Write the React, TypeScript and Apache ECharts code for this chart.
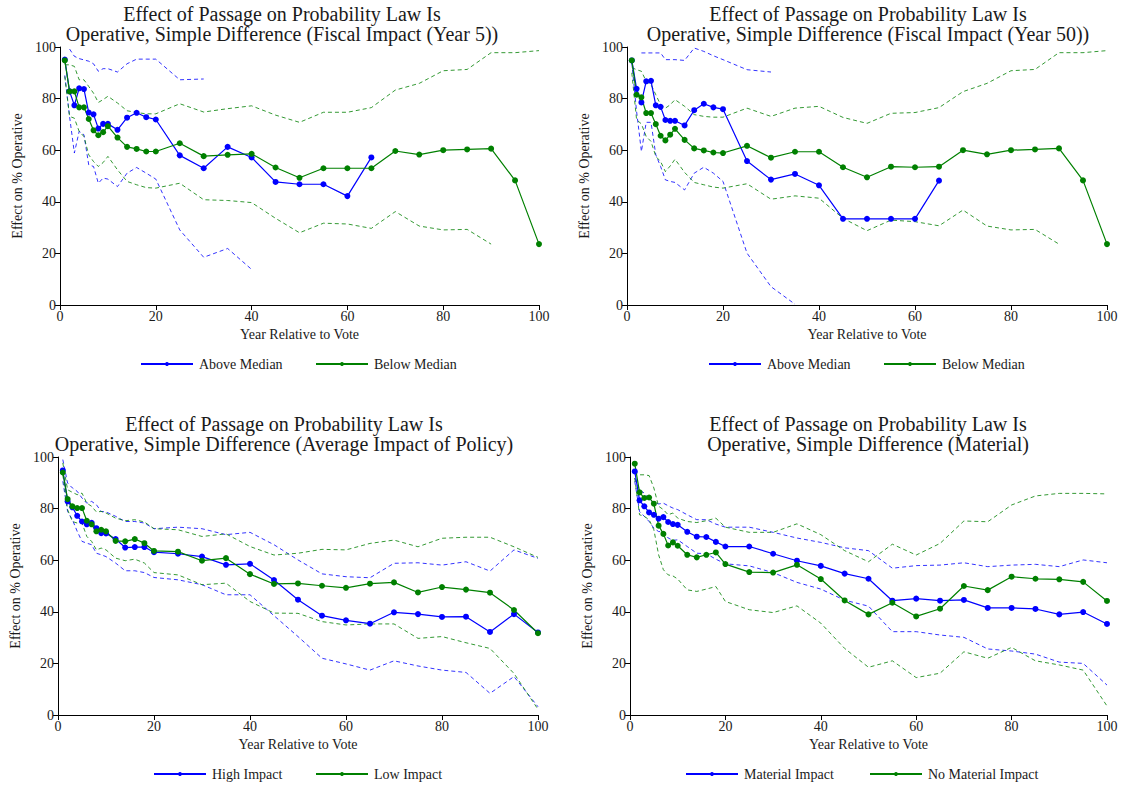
import React, { useEffect, useRef } from "react";
import * as echarts from "echarts";

const YEARS = [1, 2, 3, 4, 5, 6, 7, 8, 9, 10, 12, 14, 16, 18, 20, 25, 30, 35, 40, 45, 50, 55, 60, 65, 70, 75, 80, 85, 90, 95, 100];
const X_TICKS = [0, 20, 40, 60, 80, 100];
const Y_TICKS = [0, 20, 40, 60, 80, 100];

const TITLES = [
  ["Effect of Passage on Probability Law Is", "Operative, Simple Difference (Fiscal Impact (Year 5))"],
  ["Effect of Passage on Probability Law Is", "Operative, Simple Difference (Fiscal Impact (Year 50))"],
  ["Effect of Passage on Probability Law Is", "Operative, Simple Difference (Average Impact of Policy)"],
  ["Effect of Passage on Probability Law Is", "Operative, Simple Difference (Material)"],
];
const LEGENDS = [
  ["Above Median", "Below Median"],
  ["Above Median", "Below Median"],
  ["High Impact", "Low Impact"],
  ["Material Impact", "No Material Impact"],
];
const X_NAME = "Year Relative to Vote";
const Y_NAME = "Effect on % Operative";

// Panel 1: Fiscal Impact (Year 5)
const p1Blue = [95.1, 82.8, 77.4, 84.0, 83.7, 74.6, 73.9, 68.4, 70.2, 70.2, 67.9, 72.6, 74.5, 72.8, 71.9, 58.0, 53.0, 61.3, 57.2, 47.7, 46.8, 46.8, 42.2, 57.2];
const p1Green = [94.8, 82.8, 82.8, 76.6, 76.6, 72.1, 67.7, 65.8, 67.0, 69.3, 64.9, 61.3, 60.5, 59.5, 59.5, 62.7, 57.7, 58.2, 58.6, 53.3, 49.3, 53.0, 53.0, 53.0, 59.7, 58.3, 60.0, 60.3, 60.6, 48.3, 23.6];
const p1BlueHi = [null, 99.2, 96.4, 95.5, 95.0, 94.5, 93.5, 90.6, 91.6, 91.6, 90.3, 93.5, 95.3, 95.3, 95.3, 87.3, 87.6];
const p1BlueLo = [89.0, 73.0, 58.9, 67.3, 66.0, 54.3, 53.7, 47.2, 49.2, 48.8, 45.9, 51.1, 53.3, 51.1, 48.8, 29.1, 18.5, 21.9, 13.8];
const p1GreenHi = [93.1, 93.1, 92.5, 87.3, 87.3, 84.7, 82.1, 78.5, 79.6, 80.9, 78.3, 75.3, 74.6, 74.1, 74.1, 78.0, 74.8, 76.1, 77.2, 73.6, 70.8, 74.7, 74.7, 76.5, 83.3, 85.9, 90.8, 91.3, 97.8, 97.8, 98.6];
const p1GreenLo = [88.6, 73.1, 72.4, 67.3, 65.3, 58.2, 55.6, 53.7, 55.2, 57.6, 52.4, 47.9, 46.6, 45.5, 45.3, 47.2, 40.8, 40.5, 39.7, 33.6, 28.0, 31.7, 31.4, 29.7, 36.2, 30.6, 29.1, 29.3, 23.6];

// Panel 2: Fiscal Impact (Year 50)
const p2Blue = [94.8, 83.8, 78.5, 86.7, 86.9, 77.4, 76.8, 71.7, 71.4, 71.4, 69.6, 75.5, 78.0, 76.6, 75.9, 55.8, 48.6, 50.8, 46.4, 33.4, 33.4, 33.4, 33.4, 48.2];
const p2Green = [94.8, 81.5, 80.5, 74.4, 74.4, 70.1, 65.6, 63.8, 66.0, 68.3, 64.0, 60.7, 59.9, 59.1, 58.9, 61.7, 57.1, 59.4, 59.4, 53.4, 49.5, 53.6, 53.4, 53.6, 60.0, 58.4, 60.0, 60.3, 60.7, 48.3, 23.6];
const p2BlueHi = [null, null, 97.7, 97.7, 97.7, 97.7, 97.7, 95.1, 95.1, 95.1, 94.8, 99.6, 98.3, 96.6, 95.1, 91.2, 90.3];
const p2BlueLo = [93.8, 75.0, 59.5, 70.8, 70.8, 58.2, 53.7, 48.5, 47.9, 47.5, 44.6, 51.1, 53.4, 51.1, 47.9, 20.1, 7.1, 0.3];
const p2GreenHi = [92.0, 91.2, 90.6, 86.7, 85.4, 81.5, 77.6, 76.3, 77.6, 79.6, 77.0, 73.8, 73.1, 72.8, 72.8, 76.3, 73.1, 76.3, 77.0, 72.7, 70.4, 74.3, 74.6, 76.5, 82.7, 85.9, 90.8, 91.3, 97.8, 97.8, 98.6];
const p2GreenLo = [90.0, 71.8, 70.2, 65.3, 63.4, 57.6, 55.6, 51.7, 53.9, 56.5, 51.4, 47.5, 46.6, 45.7, 45.3, 47.0, 41.0, 42.3, 41.4, 33.6, 28.8, 32.9, 32.3, 30.7, 36.8, 30.6, 29.1, 29.3, 23.6];

// Panel 3: Average Impact of Policy
const p3Blue = [94.8, 82.8, 80.5, 77.2, 75.0, 73.9, 74.5, 72.4, 70.5, 70.4, 68.2, 64.9, 65.1, 65.1, 63.1, 62.5, 61.4, 58.2, 58.6, 52.3, 44.7, 38.5, 36.7, 35.4, 39.8, 39.1, 38.0, 38.1, 32.2, 39.1, 32.0];
const p3Green = [94.0, 83.7, 80.9, 80.2, 80.2, 75.3, 73.9, 71.2, 71.8, 71.2, 67.5, 67.3, 68.2, 66.6, 63.6, 63.3, 59.8, 60.8, 54.6, 50.8, 51.0, 50.1, 49.3, 50.9, 51.4, 47.5, 49.6, 48.6, 47.4, 40.7, 31.7];
const p3BlueHi = [99.0, 89.9, 88.0, 86.7, 84.1, 82.1, 82.8, 81.5, 78.9, 78.7, 77.0, 75.0, 75.0, 74.4, 72.2, 72.8, 72.2, 69.9, 70.8, 66.0, 60.1, 54.7, 53.6, 53.2, 58.8, 59.0, 58.1, 59.4, 55.8, 64.0, 60.7];
const p3BlueLo = [90.6, 78.9, 75.7, 71.2, 67.3, 66.6, 66.0, 62.7, 62.1, 61.4, 58.9, 55.9, 55.9, 55.2, 53.3, 52.4, 50.5, 46.6, 46.6, 38.5, 30.4, 22.0, 19.8, 17.4, 21.0, 19.0, 17.4, 16.5, 8.4, 14.9, 3.2];
const p3GreenHi = [97.7, 87.3, 86.3, 85.4, 86.0, 82.1, 80.9, 78.7, 78.9, 78.3, 76.3, 75.3, 75.7, 74.8, 72.2, 71.8, 69.2, 70.2, 65.3, 62.0, 62.7, 64.2, 64.0, 66.5, 67.8, 65.2, 68.5, 68.9, 68.9, 65.2, 61.1];
const p3GreenLo = [93.1, 79.6, 75.0, 74.4, 74.4, 69.2, 67.3, 64.0, 64.7, 64.0, 60.8, 59.8, 60.4, 58.9, 55.2, 54.3, 50.5, 51.1, 44.0, 39.5, 39.4, 36.2, 34.9, 35.3, 35.3, 29.7, 30.4, 28.0, 25.8, 16.1, 2.2];

// Panel 4: Material
const p4Blue = [94.4, 83.2, 80.9, 78.5, 77.6, 76.1, 76.7, 74.8, 74.0, 73.7, 71.0, 69.1, 69.0, 67.1, 65.3, 65.3, 62.5, 59.8, 57.8, 54.8, 52.8, 44.3, 45.1, 44.3, 44.6, 41.5, 41.5, 41.1, 39.0, 39.9, 35.3];
const p4Green = [97.4, 86.3, 84.1, 84.3, 81.9, 73.4, 70.2, 65.7, 66.9, 65.6, 62.1, 61.1, 62.1, 63.0, 58.5, 55.4, 55.2, 58.2, 52.7, 44.4, 39.0, 43.5, 38.2, 41.2, 50.0, 48.4, 53.6, 52.8, 52.6, 51.6, 44.2];
const p4BlueHi = [91.8, 87.3, 86.0, 83.7, 82.4, 81.8, 82.1, 81.1, 80.2, 79.6, 77.6, 75.7, 75.7, 74.0, 72.8, 72.8, 70.8, 68.6, 66.9, 64.8, 63.7, 56.9, 57.9, 58.1, 59.0, 57.5, 58.1, 58.4, 57.5, 60.1, 59.0];
const p4BlueLo = [90.6, 78.9, 77.0, 75.0, 72.4, 71.1, 71.1, 68.6, 67.7, 67.9, 65.3, 62.7, 62.5, 60.4, 58.6, 57.8, 55.2, 51.4, 48.8, 44.5, 42.2, 32.3, 32.3, 31.0, 30.1, 25.6, 24.8, 23.6, 20.5, 20.0, 11.6];
const p4GreenHi = [94.8, 93.1, 93.1, 92.8, 88.0, 80.9, 79.6, 77.6, 78.3, 76.3, 75.0, 74.6, 75.3, 76.3, 72.8, 70.8, 70.8, 74.1, 69.9, 63.7, 59.4, 66.2, 62.0, 66.5, 75.2, 74.9, 81.4, 84.9, 85.9, 85.9, 85.7];
const p4GreenLo = [91.8, 77.6, 77.0, 75.7, 71.8, 62.1, 56.3, 54.3, 53.9, 52.7, 48.5, 47.9, 48.8, 49.8, 44.0, 40.8, 39.7, 42.3, 35.6, 25.8, 18.5, 21.0, 14.5, 16.2, 24.5, 22.0, 26.2, 21.0, 19.4, 17.4, 3.5];

const PANELS = [
  { blue: p1Blue, green: p1Green, blueHi: p1BlueHi, blueLo: p1BlueLo, greenHi: p1GreenHi, greenLo: p1GreenLo },
  { blue: p2Blue, green: p2Green, blueHi: p2BlueHi, blueLo: p2BlueLo, greenHi: p2GreenHi, greenLo: p2GreenLo },
  { blue: p3Blue, green: p3Green, blueHi: p3BlueHi, blueLo: p3BlueLo, greenHi: p3GreenHi, greenLo: p3GreenLo },
  { blue: p4Blue, green: p4Green, blueHi: p4BlueHi, blueLo: p4BlueLo, greenHi: p4GreenHi, greenLo: p4GreenLo },
];

const BLUE = "#0000ff";
const GREEN = "#008000";
const FONT = "Liberation Serif";
const TEXT = "#1a1a1a";
const FS = 14;

const GRIDS = [
  { left: 60, top: 47, width: 479, height: 258 },
  { left: 627, top: 47, width: 480, height: 258 },
  { left: 58, top: 457, width: 480, height: 258 },
  { left: 630, top: 457, width: 477, height: 258 },
];
const TITLE_POS = [
  { x: 282, y: 14 },
  { x: 868, y: 14 },
  { x: 284, y: 424 },
  { x: 868, y: 424 },
];
const LEGEND_POS = [
  [{ left: 135, top: 356 }, { left: 310, top: 356 }],
  [{ left: 703, top: 356 }, { left: 878, top: 356 }],
  [{ left: 148, top: 766 }, { left: 310, top: 766 }],
  [{ left: 680, top: 766 }, { left: 864, top: 766 }],
];

function pts(vals: (number | null)[]) {
  return vals.map((v, i) => [YEARS[i], v]);
}

export default function App() {
  const ref = useRef<HTMLDivElement>(null);
  useEffect(() => {
    document.body.style.margin = "0";
    document.body.style.overflow = "hidden";
    if (!ref.current) return;
    const chart = echarts.init(ref.current, null, { renderer: "svg" });

    const grid: any[] = [];
    const xAxis: any[] = [];
    const yAxis: any[] = [];
    const series: any[] = [];
    const legend: any[] = [];
    const graphic: any[] = [];

    PANELS.forEach((p, i) => {
      grid.push({ ...GRIDS[i], containLabel: false });
      xAxis.push({
        type: "value",
        gridIndex: i,
        min: X_TICKS[0],
        max: X_TICKS[X_TICKS.length - 1],
        interval: 20,
        name: X_NAME,
        nameLocation: "middle",
        nameGap: 22,
        nameTextStyle: { fontFamily: FONT, fontSize: FS, color: TEXT },
        axisLine: { show: true, lineStyle: { color: "#000", width: 1 } },
        axisTick: { show: true, length: 5, lineStyle: { color: "#000" } },
        axisLabel: { show: true, fontFamily: FONT, fontSize: FS, color: TEXT, margin: 4 },
        splitLine: { show: false },
      });
      yAxis.push({
        type: "value",
        gridIndex: i,
        min: Y_TICKS[0],
        max: Y_TICKS[Y_TICKS.length - 1],
        interval: 20,
        name: Y_NAME,
        nameLocation: "middle",
        nameGap: 36,
        nameTextStyle: { fontFamily: FONT, fontSize: FS, color: TEXT },
        axisLine: { show: true, lineStyle: { color: "#000", width: 1 } },
        axisTick: { show: true, length: 5, lineStyle: { color: "#000" } },
        axisLabel: { fontFamily: FONT, fontSize: FS, color: TEXT, margin: 4 },
        splitLine: { show: false },
      });

      const names = LEGENDS[i];
      const dash = (color: string, data: any, nm: string) => ({
        type: "line",
        name: nm,
        xAxisIndex: i,
        yAxisIndex: i,
        data: pts(data),
        showSymbol: false,
        symbol: "none",
        silent: true,
        lineStyle: { color, width: 1, type: [4, 3], opacity: 0.8 },
        z: 2,
      });
      series.push(dash(BLUE, p.blueHi, names[0] + " upper"));
      series.push(dash(BLUE, p.blueLo, names[0] + " lower"));
      series.push(dash(GREEN, p.greenHi, names[1] + " upper"));
      series.push(dash(GREEN, p.greenLo, names[1] + " lower"));
      const solid = (color: string, data: any, nm: string) => ({
        type: "line",
        name: nm,
        xAxisIndex: i,
        yAxisIndex: i,
        data: pts(data),
        symbol: "circle",
        symbolSize: 6,
        showSymbol: true,
        itemStyle: { color },
        lineStyle: { color, width: 1.2 },
        z: 3,
      });
      series.push(solid(BLUE, p.blue, names[0]));
      series.push(solid(GREEN, p.green, names[1]));

      names.forEach((nm, k) => {
        legend.push({
          data: [nm],
          left: LEGEND_POS[i][k].left,
          top: LEGEND_POS[i][k].top - 4,
          itemWidth: 52,
          itemHeight: 5,
          selectedMode: false,
          textStyle: { fontFamily: FONT, fontSize: FS, color: TEXT, padding: [0, 0, 0, 1] },
        });
      });

      graphic.push({
        type: "text",
        x: TITLE_POS[i].x,
        y: TITLE_POS[i].y,
        style: {
          text: TITLES[i][0],
          font: `20px ${FONT}`,
          fill: TEXT,
          textAlign: "center",
          textVerticalAlign: "middle",
        },
      });
      graphic.push({
        type: "text",
        x: TITLE_POS[i].x,
        y: TITLE_POS[i].y + 20,
        style: {
          text: TITLES[i][1],
          font: `20px ${FONT}`,
          fill: TEXT,
          textAlign: "center",
          textVerticalAlign: "middle",
        },
      });
    });

    chart.setOption({
      animation: false,
      backgroundColor: "#ffffff",
      grid,
      xAxis,
      yAxis,
      series,
      legend,
      graphic,
    });
    return () => chart.dispose();
  }, []);
  return <div ref={ref} style={{ width: 1124, height: 788 }} />;
}
